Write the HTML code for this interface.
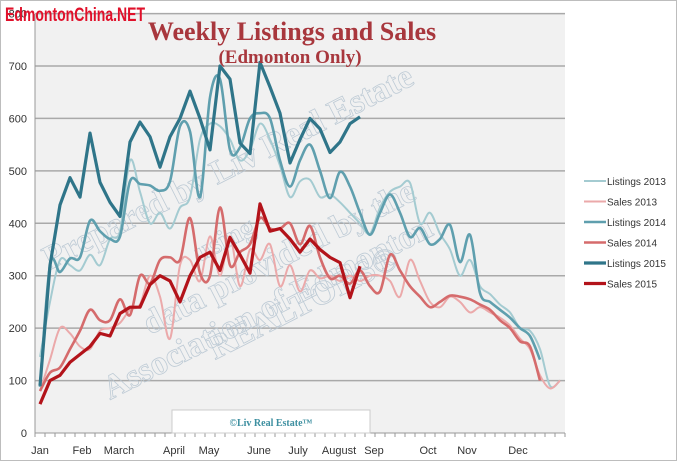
<!DOCTYPE html>
<html><head><meta charset="utf-8"><style>
body{margin:0;background:#fff;width:677px;height:461px;overflow:hidden;font-family:"Liberation Sans",sans-serif}
</style></head><body>
<svg width="677" height="461" viewBox="0 0 677 461">
<rect x="0.5" y="0.5" width="676" height="460" fill="#fff" stroke="#bdbdbd"/>
<rect x="35" y="14" width="530" height="419" fill="#f1f1f1"/>
<g id="grid"></g><g id="yticks"></g><g id="xticks"></g>
<g font-family="Liberation Serif,serif" font-weight="bold" fill="none" stroke="#b9c7d3" stroke-width="0.8" font-size="34" opacity="0.9">
<text transform="translate(50,270) rotate(-27)">Prepared by Liv Real Estate</text>
<text transform="translate(200,262) rotate(-27)" font-size="28">using</text>
<text transform="translate(150,335) rotate(-27)">data provided by the</text>
<text transform="translate(215,360) rotate(-27)">REALTORS®</text>
<text transform="translate(110,400) rotate(-27)">Association of Edmonton</text>
</g>
<g id="series"></g>
<rect x="172" y="410" width="198" height="23" fill="#fff" stroke="#ccc"/>
<text x="271" y="426" text-anchor="middle" font-family="Liberation Serif,serif" font-weight="bold" font-size="10" fill="#3d8fa0">©Liv Real Estate™</text>
<text x="292" y="40" text-anchor="middle" font-family="Liberation Serif,serif" font-weight="bold" font-size="26" fill="#a8373d">Weekly Listings and Sales</text>
<text x="290" y="63" text-anchor="middle" font-family="Liberation Serif,serif" font-weight="bold" font-size="19" fill="#a8373d">(Edmonton Only)</text>
<text x="5" y="21" font-family="Liberation Sans Narrow,Liberation Sans,sans-serif" font-weight="bold" font-size="19" fill="#e0102a" textLength="140" lengthAdjust="spacingAndGlyphs">EdmontonChina.NET</text>
<g id="legend"></g>
</svg>
<script>
const yTicks=[0,100,200,300,400,500,600,700,800];
const months=["Jan","Feb","March","April","May","June","July","August","Sep","Oct","Nov","Dec"];
const monthWeeks=[0,4.2,7.9,13.4,16.9,21.9,25.8,29.9,33.4,38.8,42.7,47.8];
const seriesNames=["Listings 2013","Sales 2013","Listings 2014","Sales 2014","Listings 2015","Sales 2015"];
const listings2013=[145,250,330,320,310,340,320,370,385,520,460,400,420,390,430,450,560,590,585,560,520,540,590,560,510,450,480,483,450,455,440,420,400,380,430,460,470,477,400,420,380,350,300,330,280,265,245,230,200,195,160,90,100];
const sales2013=[80,140,200,190,165,160,195,200,210,235,245,300,260,180,320,330,290,375,300,375,280,350,330,360,280,320,270,310,295,300,290,300,290,300,300,290,260,330,290,250,240,260,250,230,240,230,220,205,180,160,110,85,100];
const listings2014=[88,320,307,333,335,405,385,370,375,480,475,472,462,480,585,575,450,640,675,540,545,600,610,600,520,470,520,550,500,448,498,470,420,378,420,455,420,374,391,360,370,397,326,378,267,250,235,220,200,185,140];
const sales2014=[80,115,125,160,195,235,215,215,255,225,300,285,330,335,330,410,305,300,430,320,345,360,410,390,390,400,360,395,335,295,300,285,310,280,270,340,310,280,260,240,250,262,260,255,245,235,215,200,175,165,100];
const listings2015=[90,320,435,487,450,572,478,440,413,555,593,565,507,565,600,652,600,540,700,675,553,533,707,660,610,515,560,600,580,535,555,590,603];
const sales2015=[55,100,110,135,150,165,190,185,228,240,240,283,300,290,250,300,335,345,310,373,340,305,437,385,390,370,345,370,350,335,325,258,318];
const allSeries=[listings2013,sales2013,listings2014,sales2014,listings2015,sales2015];
const colors=["#a4cbd1","#eba9aa","#5f9fae","#d56b6c","#2f7589","#b3131a"];
const widths=[2,2,2.6,2.6,3.2,3.2];
const smooth=[true,true,true,true,false,false];
const NS="http://www.w3.org/2000/svg";
const y=v=>433-v*(367/700);
const x=i=>40+i*10;
function mk(tag,attrs,parent){const e=document.createElementNS(NS,tag);for(const k in attrs)e.setAttribute(k,attrs[k]);parent.appendChild(e);return e;}
const grid=document.getElementById('grid'),yt=document.getElementById('yticks'),xt=document.getElementById('xticks');
yTicks.forEach(v=>{
 if(v>0){const l=mk('line',{x1:35,x2:565,y1:y(v),y2:y(v),stroke:'#a9a9a9','stroke-width':1.5},grid);
 
 }
 const t=mk('text',{x:27,y:y(v)+4,'text-anchor':'end','font-size':11,fill:'#333'},yt);t.textContent=v;
 
 
});
mk('line',{x1:35,x2:35,y1:14,y2:433,stroke:'#999'},grid);
mk('line',{x1:35,x2:565,y1:433,y2:433,stroke:'#999'},grid);
for(let i=0;i<=53;i++){mk('line',{x1:x(i)-5,x2:x(i)-5,y1:433,y2:437,stroke:'#999'},xt);}
months.forEach((m,k)=>{const t=mk('text',{x:x(monthWeeks[k]),y:454,'text-anchor':'middle','font-size':11,fill:'#333'},xt);t.textContent=m;
 
 });
function pathD(vals,sm){const p=vals.map((v,i)=>[x(i),y(v)]);let d='M'+p[0].join(',');
 for(let i=1;i<p.length;i++){if(!sm){d+='L'+p[i].join(',');continue;}
  const p0=p[i-2]||p[i-1],p1=p[i-1],p2=p[i],p3=p[i+1]||p[i];
  const c1=[p1[0]+(p2[0]-p0[0])/6,p1[1]+(p2[1]-p0[1])/6],c2=[p2[0]-(p3[0]-p1[0])/6,p2[1]-(p3[1]-p1[1])/6];
  d+='C'+c1.join(',')+' '+c2.join(',')+' '+p2.join(',');}
 return d;}
const sg=document.getElementById('series');
allSeries.forEach((vals,k)=>{
 const p=mk('path',{d:pathD(vals,smooth[k]),fill:'none',stroke:colors[k],'stroke-width':widths[k],'stroke-linejoin':'round'},sg);
 
 
});
const lg=document.getElementById('legend');
seriesNames.forEach((n,k)=>{const yy=181+k*20.5;
 const g=mk('g',{},lg);
 
 
 mk('line',{x1:584,x2:606,y1:yy,y2:yy,stroke:colors[k],'stroke-width':widths[k]},g);
 const t=mk('text',{x:607,y:yy+4,'font-size':10,fill:'#333'},g);t.textContent=n;});
</script>
</body></html>
